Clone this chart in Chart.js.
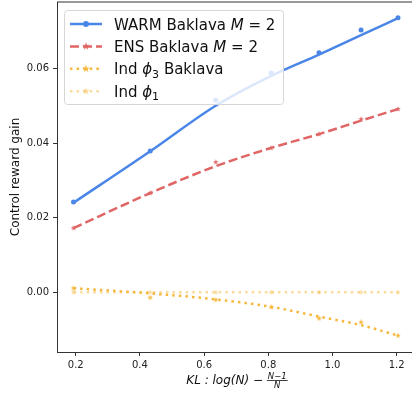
<!DOCTYPE html>
<html lang="en">
<head>
  <meta charset="UTF-8">
  <title>Control reward gain vs KL</title>
  <script src="https://cdn.jsdelivr.net/npm/chart.js"></script>
  <style>
    html, body { margin: 0; padding: 0; background: #fff; overflow: hidden; }
    canvas { display: block; }
  </style>
</head>
<body>
  <canvas id="chart" width="412" height="396"></canvas>

  <script>
    // x positions: KL = log(N) - (N-1)/N for N = 2..8
    const klValues = [0.193, 0.432, 0.636, 0.809, 0.958, 1.089, 1.204];

    // measured points and fitted curves
    const warmPoints = [0.0242, 0.0379, 0.0515, 0.0588, 0.0642, 0.0703, 0.0736];
    const warmFit    = [0.0240, 0.0378, 0.0500, 0.0580, 0.0637, 0.0689, 0.0735];
    const ensPoints  = [0.0172, 0.0266, 0.0349, 0.0387, 0.0424, 0.0464, 0.0491];
    const ensFit     = [0.0172, 0.0266, 0.0338, 0.0387, 0.0424, 0.0460, 0.0491];
    const phi3Points = [0.0011, -0.0014, -0.0020, -0.0040, -0.0070, -0.0080, -0.0116];
    const phi3Fit    = [0.0011, -0.0003, -0.0019, -0.0039, -0.0065, -0.0088, -0.0116];
    const phi1Points = [0.0000, 0.0000, 0.0000, 0.0000, 0.0000, 0.0000, 0.0000];
    const phi1Fit    = [0.0000, 0.0000, 0.0000, 0.0000, 0.0000, 0.0000, 0.0000];

    const xTicks = [0.2, 0.4, 0.6, 0.8, 1.0, 1.2];
    const yTicks = [0.00, 0.02, 0.04, 0.06];

    const BLUE = '#4a86e8';
    const RED = '#e06666';
    const ORANGE = '#f6b73c';
    const LIGHT = 'rgba(246,183,60,0.5)';
    const FONT = '"DejaVu Sans", sans-serif';

    const toXY = arr => klValues.map((x, i) => ({ x: x, y: arr[i] }));

    function starImage(color, size) {
      const c = document.createElement('canvas');
      c.width = c.height = size;
      const g = c.getContext('2d');
      const r = size / 2, ri = r * 0.4;
      g.fillStyle = color;
      g.beginPath();
      for (let k = 0; k < 10; k++) {
        const ang = -Math.PI / 2 + k * Math.PI / 5;
        const rr = k % 2 ? ri : r;
        g.lineTo(r + rr * Math.cos(ang), r + rr * Math.sin(ang));
      }
      g.closePath();
      g.fill();
      return c;
    }

    const series = [
      { fit: warmFit, pts: warmPoints, color: BLUE, dash: [], marker: 'circle',
        label: [['WARM Baklava ', 'n'], ['M', 'i'], [' = 2', 'n']] },
      { fit: ensFit, pts: ensPoints, color: RED, dash: [9, 4], marker: starImage(RED, 6),
        label: [['ENS Baklava ', 'n'], ['M', 'i'], [' = 2', 'n']] },
      { fit: phi3Fit, pts: phi3Points, color: ORANGE, dash: [2.5, 4.1], marker: starImage(ORANGE, 6),
        label: [['Ind ', 'n'], ['\u03D5', 'i'], ['3', 'sub'], [' Baklava', 'n']] },
      { fit: phi1Fit, pts: phi1Points, color: LIGHT, dash: [2.5, 4.1], marker: starImage(LIGHT, 6),
        label: [['Ind ', 'n'], ['\u03D5', 'i'], ['1', 'sub']] }
    ];

    const datasets = [];
    series.forEach((s, i) => {
      datasets.push({
        data: toXY(s.fit), borderColor: s.color, borderWidth: 2.5, borderDash: s.dash,
        borderCapStyle: 'butt', pointRadius: 0, fill: false,
        cubicInterpolationMode: 'monotone', order: i * 2 + 1
      });
      datasets.push({
        data: toXY(s.pts), showLine: false, pointStyle: s.marker, pointRadius: 2.5,
        backgroundColor: s.color, borderWidth: 0, order: i * 2
      });
    });

    function drawParts(ctx, parts, x, y, size) {
      for (const [txt, kind] of parts) {
        let dy = 0;
        ctx.font = size + 'px ' + FONT;
        if (kind === 'i') ctx.font = 'italic ' + size + 'px ' + FONT;
        if (kind === 'sub') { ctx.font = Math.round(size * 0.7) + 'px ' + FONT; dy = size * 0.22; }
        ctx.fillText(txt, x, y + dy);
        x += ctx.measureText(txt).width;
      }
      return x;
    }

    const overlay = {
      id: 'overlay',
      afterDatasetsDraw(chart) {
        const ctx = chart.ctx;
        const a = chart.chartArea;
        ctx.save();
        // top spine (right spine falls just outside the picture)
        ctx.strokeStyle = '#333';
        ctx.lineWidth = 1;
        ctx.beginPath();
        ctx.moveTo(a.left, a.top);
        ctx.lineTo(a.right, a.top);
        ctx.stroke();

        // legend box
        ctx.beginPath();
        ctx.roundRect(64.5, 10.5, 219, 94, 3);
        ctx.fillStyle = 'rgba(255,255,255,0.8)';
        ctx.fill();
        ctx.strokeStyle = '#d6d6d6';
        ctx.stroke();

        series.forEach((s, i) => {
          const y = 24 + i * 22.4;
          ctx.strokeStyle = s.color;
          ctx.lineWidth = 2.5;
          ctx.lineCap = 'butt';
          ctx.setLineDash(s.dash);
          ctx.beginPath();
          ctx.moveTo(70, y);
          ctx.lineTo(102, y);
          ctx.stroke();
          ctx.setLineDash([]);
          if (s.marker === 'circle') {
            ctx.fillStyle = s.color;
            ctx.beginPath();
            ctx.arc(86, y, 3, 0, Math.PI * 2);
            ctx.fill();
          } else {
            const img = starImage(s.color, 8);
            ctx.drawImage(img, 82, y - 4);
          }
          ctx.fillStyle = '#111';
          ctx.textBaseline = 'alphabetic';
          ctx.textAlign = 'left';
          drawParts(ctx, s.label, 114, y + 5.5, 15);
        });
        ctx.restore();
      },
      afterDraw(chart) {
        const ctx = chart.ctx;
        ctx.save();
        ctx.fillStyle = '#111';
        // y title
        ctx.save();
        ctx.translate(16, 177);
        ctx.rotate(-Math.PI / 2);
        ctx.font = '12px ' + FONT;
        ctx.textAlign = 'center';
        ctx.textBaseline = 'middle';
        ctx.fillText('Control reward gain', 0, 0);
        ctx.restore();

        // x title: KL : log(N) - (N-1)/N
        const base = 384;
        const main = 'KL : log(N) \u2212 ';
        ctx.font = 'italic 12px ' + FONT;
        const w1 = ctx.measureText(main).width;
        ctx.font = 'italic 8.5px ' + FONT;
        const wn = ctx.measureText('N\u22121').width;
        const wf = wn + 2;
        const x0 = 237 - (w1 + wf) / 2;
        ctx.font = 'italic 12px ' + FONT;
        ctx.textAlign = 'left';
        ctx.textBaseline = 'alphabetic';
        ctx.fillText(main, x0, base);
        const barY = base - 4;
        ctx.fillRect(x0 + w1, barY, wf, 0.8);
        ctx.font = 'italic 8.5px ' + FONT;
        ctx.textAlign = 'center';
        ctx.fillText('N\u22121', x0 + w1 + wf / 2, barY - 1.5);
        ctx.fillText('N', x0 + w1 + wf / 2, barY + 8);
        ctx.restore();
      }
    };

    const ctx = document.getElementById('chart').getContext('2d');
    new Chart(ctx, {
      type: 'line',
      data: { datasets: datasets },
      plugins: [overlay],
      options: {
        responsive: false,
        animation: false,
        layout: { autoPadding: false, padding: { top: 2, right: 0, left: 0, bottom: 0 } },
        plugins: { legend: { display: false }, tooltip: { enabled: false } },
        scales: {
          x: {
            type: 'linear',
            min: 0.1415,
            max: 1.2477,
            afterBuildTicks: s => { s.ticks = xTicks.map(v => ({ value: v })); },
            afterFit: s => { s.height = 44; s.paddingLeft = 0; s.paddingRight = 0; },
            ticks: {
              callback: v => v.toFixed(1),
              font: { family: FONT, size: 10 },
              color: '#222',
              padding: 3,
              maxRotation: 0,
              autoSkip: false
            },
            grid: { drawOnChartArea: false, tickLength: 4, tickColor: '#333' },
            border: { color: '#333', width: 1 }
          },
          y: {
            min: -0.0160,
            max: 0.0778,
            afterBuildTicks: s => { s.ticks = yTicks.map(v => ({ value: v })); },
            afterFit: s => { s.width = 57; s.paddingTop = 0; s.paddingBottom = 0; },
            ticks: {
              callback: v => v.toFixed(2),
              font: { family: FONT, size: 10 },
              color: '#222',
              padding: 4,
              autoSkip: false
            },
            grid: { drawOnChartArea: false, tickLength: 4, tickColor: '#333' },
            border: { color: '#333', width: 1 }
          }
        }
      }
    });
  </script>
</body>
</html>
